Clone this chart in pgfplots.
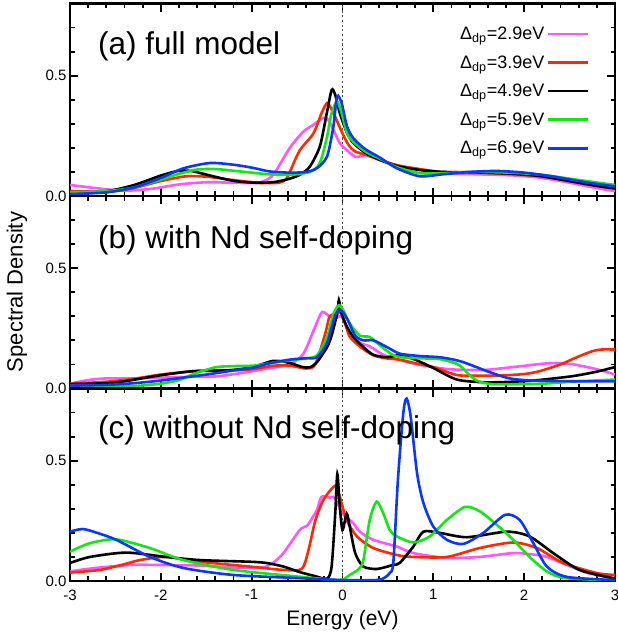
\documentclass[border=0pt]{standalone}
\usepackage{fontspec}
\setmainfont{Liberation Sans}
\usepackage{pgfplots}
\pgfplotsset{compat=1.18}

\definecolor{cpink}{RGB}{255,85,255}
\definecolor{cred}{RGB}{255,40,0}
\definecolor{cgreen}{RGB}{20,230,20}
\definecolor{cblue}{RGB}{10,55,255}

\tikzset{zeroline/.style={black!70, line width=1.3pt, dash pattern=on 2.2pt off 2.5pt}}
\pgfplotsset{
  panel/.style={
    scale only axis, width=545pt, height=192.5pt,
    xmin=-3, xmax=3, ymin=0, ymax=0.8,
    xtick={-3,-2,-1,0,1,2,3},
    minor xtick={-2.8,-2.6,-2.4,-2.2,-1.8,-1.6,-1.4,-1.2,-0.8,-0.6,-0.4,-0.2,
                 0.2,0.4,0.6,0.8,1.2,1.4,1.6,1.8,2.2,2.4,2.6,2.8},
    ytick={0,0.5}, yticklabels={0.0,0.5},
    minor ytick={0.1,0.2,0.3,0.4,0.6,0.7},
    axis line style={line width=2.8pt},
    tick style={black, line width=1.8pt},
    major tick length=8pt, minor tick length=4.5pt,
    tick align=inside,
    tick label style={font=\fontsize{15}{18}\selectfont},
    xticklabel style={yshift=-5pt},
    every axis plot/.append style={line width=2.6pt, smooth, tension=0.45},
  },
}

\begin{document}
\begin{tikzpicture}
\path[use as bounding box] (0pt,0pt) rectangle (618pt,637pt);

% (a) full model
\begin{axis}[panel, at={(70pt,441pt)}, anchor=south west, xticklabels=\empty,
  legend plot pos=right, legend cell align=right,
  legend image code/.code={\draw[#1] (0pt,0pt) -- (40pt,0pt);},
  legend style={draw=none, fill=none, at={(0.958,0.9)}, anchor=north east,
    font=\fontsize{18}{22}\selectfont, row sep=10.5pt}]
\draw[zeroline] (axis cs:0,0) -- (axis cs:0,0.8);
\addplot[cpink] coordinates {(-3,0.046) (-2.7,0.032) (-2.4,0.022) (-2.1,0.03) (-1.8,0.048) (-1.5,0.057) (-1.2,0.055) (-0.95,0.054) (-0.82,0.07) (-0.74,0.1) (-0.58,0.2) (-0.43,0.268) (-0.32,0.296) (-0.21,0.325) (-0.16,0.318) (-0.1,0.275) (-0.03,0.22) (0.05,0.19) (0.14,0.163) (0.2,0.165) (0.27,0.17) (0.4,0.15) (0.6,0.125) (0.85,0.11) (1.1,0.095) (1.5,0.09) (1.9,0.085) (2.2,0.075) (2.5,0.055) (2.8,0.033) (3,0.02)};
\addlegendentry{Δ\textsubscript{dp}=2.9eV}
\addplot[cred] coordinates {(-3,0.021) (-2.6,0.018) (-2.3,0.033) (-2.0,0.062) (-1.72,0.082) (-1.49,0.08) (-1.2,0.066) (-0.9,0.054) (-0.7,0.055) (-0.62,0.07) (-0.58,0.1) (-0.47,0.19) (-0.32,0.26) (-0.23,0.345) (-0.17,0.386) (-0.12,0.36) (-0.07,0.32) (0.0,0.26) (0.07,0.21) (0.14,0.185) (0.25,0.172) (0.4,0.152) (0.6,0.128) (0.85,0.112) (1.1,0.1) (1.5,0.097) (1.9,0.09) (2.2,0.08) (2.5,0.062) (2.8,0.042) (3,0.03)};
\addlegendentry{Δ\textsubscript{dp}=3.9eV}
\addplot[black] coordinates {(-3,0.012) (-2.6,0.02) (-2.3,0.045) (-2.0,0.085) (-1.8,0.105) (-1.65,0.103) (-1.49,0.088) (-1.2,0.063) (-0.95,0.055) (-0.75,0.058) (-0.6,0.07) (-0.47,0.088) (-0.36,0.122) (-0.25,0.205) (-0.18,0.33) (-0.12,0.44) (-0.08,0.42) (-0.03,0.345) (0.05,0.262) (0.12,0.22) (0.25,0.18) (0.4,0.152) (0.6,0.125) (0.85,0.108) (1.1,0.1) (1.5,0.098) (1.9,0.092) (2.2,0.082) (2.5,0.062) (2.8,0.042) (3,0.032)};
\addlegendentry{Δ\textsubscript{dp}=4.9eV}
\addplot[cgreen] coordinates {(-3,0.015) (-2.6,0.02) (-2.3,0.035) (-2.0,0.068) (-1.8,0.092) (-1.6,0.11) (-1.4,0.112) (-1.2,0.105) (-1.0,0.097) (-0.8,0.09) (-0.58,0.088) (-0.36,0.1) (-0.25,0.137) (-0.17,0.247) (-0.12,0.345) (-0.06,0.393) (-0.01,0.345) (0.05,0.26) (0.12,0.225) (0.25,0.185) (0.41,0.155) (0.6,0.12) (0.85,0.095) (1.1,0.095) (1.5,0.1) (1.9,0.096) (2.2,0.088) (2.5,0.072) (2.8,0.056) (3,0.046)};
\addlegendentry{Δ\textsubscript{dp}=5.9eV}
\addplot[cblue] coordinates {(-3,0.008) (-2.6,0.015) (-2.3,0.035) (-2.0,0.075) (-1.75,0.115) (-1.46,0.137) (-1.2,0.13) (-1.0,0.118) (-0.8,0.102) (-0.58,0.097) (-0.4,0.1) (-0.28,0.116) (-0.17,0.164) (-0.1,0.289) (-0.06,0.414) (-0.01,0.386) (0.05,0.289) (0.12,0.24) (0.25,0.195) (0.41,0.16) (0.6,0.115) (0.85,0.082) (1.1,0.09) (1.4,0.1) (1.7,0.104) (2.0,0.097) (2.3,0.082) (2.6,0.062) (2.8,0.05) (3,0.04)};
\addlegendentry{Δ\textsubscript{dp}=6.9eV}
\node[anchor=west, font=\fontsize{31.5}{36}\selectfont] at (rel axis cs:0.045,0.775) {(a) full model};
\end{axis}

% (b) with Nd self-doping
\begin{axis}[panel, at={(70pt,248.5pt)}, anchor=south west, xticklabels=\empty]
\draw[zeroline] (axis cs:0,0) -- (axis cs:0,0.8);
\addplot[cpink] coordinates {(-3,0.02) (-2.8,0.035) (-2.6,0.042) (-2.3,0.042) (-2.0,0.045) (-1.7,0.048) (-1.4,0.05) (-1.1,0.065) (-0.8,0.085) (-0.58,0.1) (-0.43,0.145) (-0.32,0.24) (-0.24,0.31) (-0.21,0.318) (-0.14,0.3) (-0.06,0.295) (-0.01,0.3) (0.08,0.228) (0.19,0.19) (0.3,0.175) (0.45,0.14) (0.63,0.118) (0.9,0.095) (1.18,0.08) (1.55,0.077) (1.9,0.09) (2.28,0.105) (2.54,0.1) (2.8,0.08) (3,0.058)};
\addplot[cred] coordinates {(-3,0.02) (-2.6,0.028) (-2.3,0.04) (-2.0,0.058) (-1.64,0.072) (-1.3,0.075) (-1.0,0.08) (-0.75,0.095) (-0.58,0.095) (-0.4,0.083) (-0.3,0.1) (-0.19,0.228) (-0.14,0.3) (-0.06,0.31) (-0.02,0.318) (0.03,0.27) (0.08,0.215) (0.2,0.172) (0.34,0.138) (0.49,0.125) (0.63,0.12) (0.8,0.105) (1.0,0.089) (1.26,0.056) (1.5,0.053) (1.73,0.054) (2.0,0.06) (2.17,0.072) (2.4,0.1) (2.58,0.13) (2.75,0.155) (2.85,0.162) (3,0.162)};
\addplot[black] coordinates {(-3,0.018) (-2.6,0.022) (-2.4,0.03) (-2.0,0.055) (-1.64,0.072) (-1.27,0.075) (-1.0,0.088) (-0.76,0.115) (-0.58,0.106) (-0.45,0.09) (-0.36,0.088) (-0.28,0.11) (-0.17,0.172) (-0.12,0.22) (-0.06,0.31) (-0.04,0.367) (-0.01,0.31) (0.05,0.256) (0.12,0.214) (0.23,0.172) (0.34,0.14) (0.49,0.13) (0.63,0.138) (0.8,0.12) (1.0,0.085) (1.26,0.037) (1.55,0.026) (1.8,0.027) (2.1,0.033) (2.4,0.045) (2.58,0.054) (2.8,0.07) (3,0.089)};
\addplot[cgreen] coordinates {(-3,0.012) (-2.6,0.008) (-2.3,0.01) (-2.0,0.02) (-1.8,0.035) (-1.64,0.06) (-1.4,0.088) (-1.2,0.093) (-0.98,0.095) (-0.8,0.105) (-0.58,0.117) (-0.4,0.125) (-0.28,0.138) (-0.17,0.214) (-0.1,0.31) (-0.04,0.346) (0.01,0.325) (0.08,0.27) (0.19,0.22) (0.3,0.214) (0.41,0.18) (0.56,0.138) (0.7,0.128) (0.9,0.125) (1.07,0.122) (1.2,0.11) (1.29,0.096) (1.4,0.055) (1.48,0.033) (1.6,0.02) (1.73,0.017) (2.2,0.02) (2.6,0.03) (3,0.037)};
\addplot[cblue] coordinates {(-3,0.012) (-2.6,0.015) (-2.3,0.022) (-2.0,0.033) (-1.7,0.048) (-1.46,0.06) (-1.2,0.075) (-0.98,0.087) (-0.8,0.105) (-0.58,0.12) (-0.4,0.126) (-0.28,0.13) (-0.17,0.19) (-0.08,0.304) (-0.02,0.325) (0.05,0.29) (0.14,0.22) (0.23,0.2) (0.34,0.2) (0.49,0.172) (0.63,0.145) (0.85,0.135) (1.07,0.13) (1.25,0.118) (1.37,0.104) (1.62,0.068) (1.84,0.042) (2.1,0.033) (2.6,0.03) (3,0.03)};
\node[anchor=west, font=\fontsize{31.5}{36}\selectfont] at (rel axis cs:0.045,0.77) {(b) with Nd self-doping};
\end{axis}

% (c) without Nd self-doping
\begin{axis}[panel, at={(70pt,56pt)}, anchor=south west,
  xticklabels={-3,-2,-1,0,1,2,3}]
\draw[zeroline] (axis cs:0,0) -- (axis cs:0,0.8);
\addplot[cpink] coordinates {(-3,0.04) (-2.7,0.055) (-2.3,0.067) (-1.9,0.066) (-1.57,0.064) (-1.2,0.056) (-0.95,0.055) (-0.84,0.06) (-0.75,0.08) (-0.65,0.116) (-0.47,0.212) (-0.39,0.23) (-0.32,0.27) (-0.28,0.296) (-0.23,0.35) (-0.14,0.346) (-0.1,0.35) (-0.05,0.32) (0.0,0.28) (0.12,0.24) (0.19,0.205) (0.34,0.171) (0.6,0.143) (0.78,0.116) (1.15,0.096) (1.51,0.1) (1.88,0.116) (2.1,0.11) (2.25,0.1) (2.47,0.067) (2.7,0.033) (3,0.012)};
\addplot[cred] coordinates {(-3,0.035) (-2.67,0.046) (-2.4,0.07) (-2.23,0.087) (-1.94,0.1) (-1.57,0.08) (-1.02,0.06) (-0.65,0.046) (-0.45,0.05) (-0.38,0.12) (-0.3,0.25) (-0.21,0.337) (-0.08,0.396) (-0.03,0.35) (0.046,0.254) (0.16,0.185) (0.34,0.137) (0.6,0.108) (0.78,0.1) (1.15,0.1) (1.51,0.137) (1.88,0.16) (2.14,0.137) (2.43,0.075) (2.8,0.033) (3,0.025)};
\addplot[black] coordinates {(-3,0.075) (-2.78,0.1) (-2.38,0.118) (-1.94,0.1) (-1.57,0.087) (-1.02,0.08) (-0.84,0.075) (-0.65,0.06) (-0.47,0.037) (-0.3,0.02) (-0.17,0.01) (-0.12,0.06) (-0.08,0.28) (-0.057,0.444) (-0.03,0.31) (0.0,0.212) (0.046,0.28) (0.08,0.226) (0.14,0.116) (0.23,0.06) (0.38,0.05) (0.56,0.067) (0.63,0.075) (0.78,0.143) (0.89,0.205) (1.07,0.2) (1.37,0.182) (1.81,0.205) (2.06,0.185) (2.32,0.116) (2.61,0.046) (3,0.01)};
\addplot[cgreen] coordinates {(-3,0.122) (-2.8,0.155) (-2.6,0.171) (-2.45,0.171) (-2.12,0.137) (-1.75,0.087) (-1.2,0.046) (-0.48,0.018) (-0.1,0.005) (0.0,0.005) (0.08,0.025) (0.18,0.05) (0.23,0.087) (0.3,0.254) (0.376,0.33) (0.45,0.28) (0.52,0.212) (0.6,0.185) (0.78,0.16) (0.96,0.185) (1.15,0.254) (1.35,0.308) (1.51,0.29) (1.7,0.233) (1.88,0.171) (2.06,0.1) (2.25,0.04) (2.45,0.012) (3,0.003)};
\addplot[cblue] coordinates {(-3,0.205) (-2.86,0.216) (-2.7,0.2) (-2.49,0.171) (-2.12,0.1) (-1.75,0.054) (-1.2,0.025) (-0.48,0.012) (0,0.004) (0.4,0.005) (0.52,0.033) (0.56,0.08) (0.61,0.42) (0.67,0.7) (0.706,0.758) (0.75,0.685) (0.82,0.45) (0.89,0.325) (1.0,0.226) (1.15,0.171) (1.33,0.154) (1.55,0.2) (1.79,0.275) (1.95,0.254) (2.1,0.158) (2.25,0.06) (2.47,0.017) (3,0.004)};
\node[anchor=west, font=\fontsize{31.5}{36}\selectfont] at (rel axis cs:0.045,0.78) {(c) without Nd self-doping};
\end{axis}

\node[rotate=90, font=\fontsize{22}{26}\selectfont] at (17pt,345pt) {Spectral Density};
\node[font=\fontsize{21}{25}\selectfont] at (342.5pt,17pt) {Energy (eV)};
\end{tikzpicture}
\end{document}
